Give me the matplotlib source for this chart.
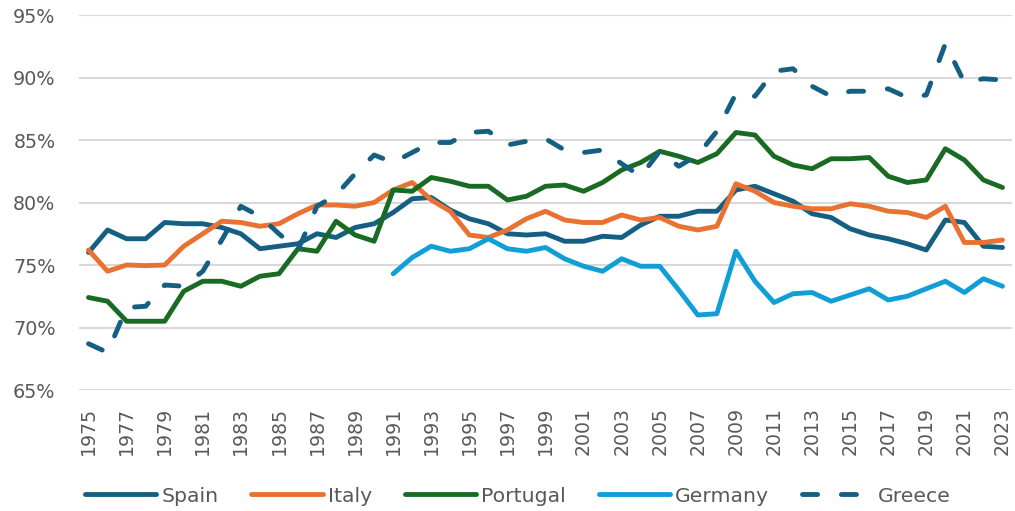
import matplotlib.pyplot as plt
from matplotlib.ticker import FuncFormatter, MultipleLocator

years = list(range(1975, 2024))
years_germany = list(range(1991, 2024))

spain = [76.0, 77.8, 77.1, 77.1, 78.4, 78.3, 78.3, 78.0, 77.5, 76.3,
         76.5, 76.7, 77.5, 77.2, 78.0, 78.3, 79.2, 80.3, 80.4, 79.4,
         78.7, 78.3, 77.5, 77.4, 77.5, 76.9, 76.9, 77.3, 77.2, 78.2,
         78.9, 78.9, 79.3, 79.3, 81.0, 81.3, 80.7, 80.1, 79.1, 78.8,
         77.9, 77.4, 77.1, 76.7, 76.2, 78.6, 78.4, 76.5, 76.4]
italy = [76.2, 74.5, 75.0, 74.95, 75.0, 76.5, 77.5, 78.5, 78.4, 78.1,
         78.3, 79.1, 79.8, 79.8, 79.7, 80.0, 81.0, 81.6, 80.2, 79.3,
         77.4, 77.2, 77.8, 78.7, 79.3, 78.6, 78.4, 78.4, 79.0, 78.6,
         78.8, 78.1, 77.8, 78.1, 81.5, 80.9, 80.0, 79.7, 79.5, 79.5,
         79.9, 79.7, 79.3, 79.2, 78.8, 79.7, 76.8, 76.8, 77.0]
portugal = [72.4, 72.1, 70.5, 70.5, 70.5, 72.9, 73.7, 73.7, 73.3, 74.1,
            74.3, 76.3, 76.1, 78.5, 77.4, 76.9, 81.0, 80.9, 82.0, 81.7,
            81.3, 81.3, 80.2, 80.5, 81.3, 81.4, 80.9, 81.6, 82.6, 83.2,
            84.1, 83.7, 83.2, 83.9, 85.6, 85.4, 83.7, 83.0, 82.7, 83.5,
            83.5, 83.6, 82.1, 81.6, 81.8, 84.3, 83.4, 81.8, 81.2]
germany = [74.3, 75.6, 76.5, 76.1, 76.3, 77.1, 76.3, 76.1, 76.4, 75.5,
           74.9, 74.5, 75.5, 74.9, 74.9, 73.0, 71.0, 71.1, 76.1, 73.7,
           72.0, 72.7, 72.8, 72.1, 72.6, 73.1, 72.2, 72.5, 73.1, 73.7,
           72.8, 73.9, 73.3]
greece = [68.7, 68.0, 71.6, 71.7, 73.4, 73.3, 74.5, 77.0, 79.7, 78.9,
          77.5, 76.2, 79.7, 80.6, 82.3, 83.8, 83.2, 84.0, 84.8, 84.8,
          85.6, 85.7, 84.6, 84.9, 85.1, 84.2, 84.0, 84.2, 83.1, 82.1,
          84.1, 82.9, 83.8, 85.7, 88.7, 88.5, 90.5, 90.7, 89.3, 88.5,
          88.9, 88.9, 89.1, 88.4, 88.6, 92.7, 89.6, 89.9, 89.8]

TEXT = '#595959'
LW = 3.5

fig = plt.figure(figsize=(10.15, 5.11), dpi=100)
ax = fig.add_axes([79 / 1015, 1 - 390 / 511, (1012 - 79) / 1015, 375 / 511])

solid = dict(linewidth=LW, solid_capstyle='round', solid_joinstyle='round')
ax.plot(years, spain, color='#156082', label='Spain', **solid)
ax.plot(years, italy, color='#E97132', label='Italy', **solid)
ax.plot(years, portugal, color='#196B24', label='Portugal', **solid)
ax.plot(years_germany, germany, color='#0F9ED5', label='Germany', **solid)
ax.plot(years, greece, color='#156082', label='Greece', linewidth=LW,
        linestyle=(0, (3.1, 4.9)), dash_capstyle='round', dash_joinstyle='round')

ax.set_xlim(1974.5, 2023.5)
ax.set_ylim(65, 95)
ax.yaxis.set_major_locator(MultipleLocator(5))
ax.yaxis.set_major_formatter(FuncFormatter(lambda v, _: f"{v:.0f}%"))
ax.set_xticks(years[::2])
ax.set_xticklabels([str(y) for y in years[::2]], rotation=90)
ax.tick_params(axis='y', length=0, pad=17, labelsize=13.8, labelcolor=TEXT)
ax.tick_params(axis='x', length=0, pad=12, labelsize=13.6, labelcolor=TEXT)
ax.grid(axis='y', color='#D9D9D9', linewidth=1.5)
ax.set_axisbelow(True)
for s in ax.spines.values():
    s.set_visible(False)

leg = fig.legend(loc='center', bbox_to_anchor=(518 / 1015, 1 - 496 / 511), ncol=5,
                 frameon=False, fontsize=14.7, handlelength=3.5, handletextpad=0.25,
                 columnspacing=1.6, borderpad=0, borderaxespad=0)
for t in leg.get_texts():
    t.set_color(TEXT)

fig.savefig('out.png', dpi=100)
